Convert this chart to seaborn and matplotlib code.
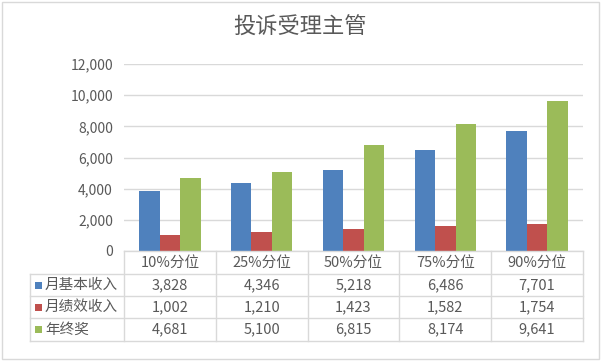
import matplotlib
matplotlib.use("Agg")
import matplotlib.pyplot as plt
import matplotlib.transforms as mtransforms
from matplotlib.patches import Rectangle
from matplotlib.ticker import FuncFormatter
import pandas as pd
import seaborn as sns

# Data
categories = ['10%分位', '25%分位', '50%分位', '75%分位', '90%分位']
series = ['月基本收入', '月绩效收入', '年终奖']
base_pay = [3828, 4346, 5218, 6486, 7701]
perf_pay = [1002, 1210, 1423, 1582, 1754]
year_bonus = [4681, 5100, 6815, 8174, 9641]
title = '投诉受理主管'

colors = ['#4F81BD', '#C0504D', '#9BBB59']
text_color = '#595959'
line_color = '#D9D9D9'

plt.rcParams['font.family'] = ['Noto Sans CJK SC', 'DejaVu Sans']

values = [base_pay, perf_pay, year_bonus]
df = pd.DataFrame({
    'category': categories * 3,
    'series': [s for s in series for _ in categories],
    'value': base_pay + perf_pay + year_bonus,
})

W, H = 602, 362
fig = plt.figure(figsize=(W / 100, H / 100), dpi=100)

def fx(x):
    return x / W

def fy(y):
    return 1 - y / H

# axes: x 124..583 px, y 64..251 px
ax = fig.add_axes([fx(124), fy(251), fx(583) - fx(124), fy(64) - fy(251)])
sns.barplot(data=df, x='category', y='value', hue='series', palette=colors,
            order=categories, hue_order=series, width=0.667, saturation=1,
            legend=False, ax=ax)

ax.set_xlim(-0.5, len(categories) - 0.5)
ax.set_ylim(0, 12000)
ax.set_yticks(range(0, 12001, 2000))
ax.yaxis.set_major_formatter(FuncFormatter(lambda v, p: f'{int(v):,}'))
ax.set_xticks([])
ax.set_xlabel('')
ax.set_ylabel('')
ax.tick_params(axis='y', length=0, pad=8, labelsize=10, labelcolor=text_color)
ax.grid(axis='y', color=line_color, linewidth=1)
ax.set_axisbelow(True)
for side in ['top', 'right', 'left']:
    ax.spines[side].set_visible(False)
ax.spines['bottom'].set_color(line_color)
ax.spines['bottom'].set_linewidth(1)

fig.text(fx(300), fy(27), title, ha='center', va='center', fontsize=16,
         color=text_color)

# Data table below the axes
tr = mtransforms.blended_transform_factory(ax.transData, fig.transFigure)
row_edges = [251, 274, 296, 318, 341]
table_left = 30
n = len(categories)

# horizontal lines
for y in row_edges[1:]:
    fig.add_artist(plt.Line2D([fx(table_left), fx(583)], [fy(y), fy(y)],
                              color=line_color, linewidth=1, transform=fig.transFigure))
# vertical lines
fig.add_artist(plt.Line2D([fx(table_left), fx(table_left)], [fy(274), fy(341)],
                          color=line_color, linewidth=1, transform=fig.transFigure))
for i in range(n + 1):
    xb = i - 0.5
    fig.add_artist(plt.Line2D([xb, xb], [fy(251), fy(341)], color=line_color,
                              linewidth=1, transform=tr))

# header row
hy = (row_edges[0] + row_edges[1]) / 2
for i, c in enumerate(categories):
    fig.text(i, fy(hy), c, transform=tr, ha='center', va='center',
             fontsize=10.5, color=text_color)

# data rows
for r, (name, vals, col) in enumerate(zip(series, values, colors)):
    yc = (row_edges[r + 1] + row_edges[r + 2]) / 2
    fig.add_artist(Rectangle((fx(35), fy(yc + 3.5)), fx(7), 7 / H, facecolor=col,
                             edgecolor='none', transform=fig.transFigure))
    fig.text(fx(45), fy(yc), name, ha='left', va='center', fontsize=10.5,
             color=text_color)
    for i, v in enumerate(vals):
        fig.text(i, fy(yc), f'{v:,}', transform=tr, ha='center', va='center',
                 fontsize=10.5, color=text_color)

# chart border
fig.add_artist(Rectangle((fx(2), fy(359)), fx(597), 357 / H, fill=False,
                         edgecolor=line_color, linewidth=1, transform=fig.transFigure))

fig.savefig('out.png', dpi=100)
